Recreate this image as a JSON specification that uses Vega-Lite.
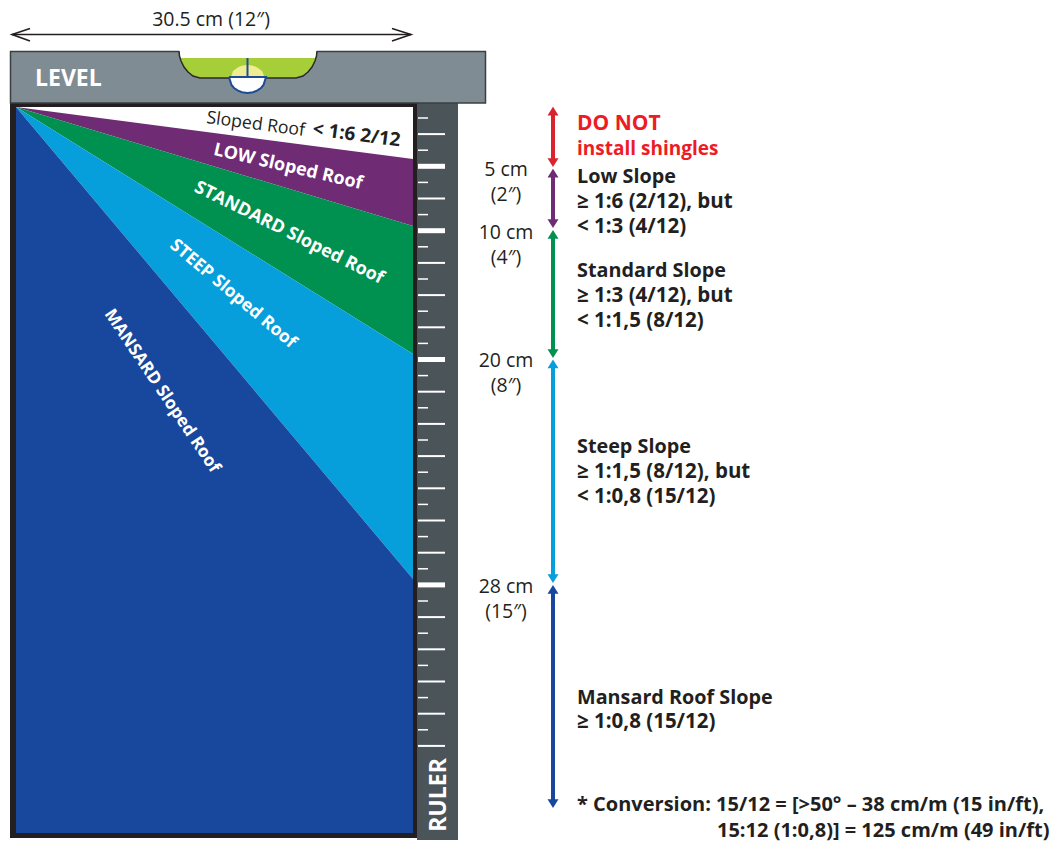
{
"$schema":"https://vega.github.io/schema/vega-lite/v6.json",
"width":1057,"height":843,"padding":0,"autosize":{"type":"none"},"background":"white",
"config":{"view":{"stroke":null},"font":"Open Sans"},
"encoding":{
 "x":{"field":"x","type":"quantitative","scale":{"domain":[0,1057],"nice":false,"zero":false},"axis":null},
 "y":{"field":"y","type":"quantitative","scale":{"domain":[843,0],"nice":false,"zero":false},"axis":null}
},
"layer":[
{"data":{"values":[{"part":"frame","x":10,"x2":417,"y":103,"y2":838}]},"mark":{"type":"rect","fill":"#231f20"},"encoding":{"x2":{"field":"x2"},"y2":{"field":"y2"}}},
{"data":{"values":[{"x":16,"x2":413,"y":107,"y2":833}]},"mark":{"type":"rect","fill":"#ffffff"},"encoding":{"x2":{"field":"x2"},"y2":{"field":"y2"}}},
{"data":{"values":[
 {"band":"low","x":16,"y":107,"y2":107},{"band":"low","x":413,"y":159,"y2":226},
 {"band":"standard","x":16,"y":107,"y2":107},{"band":"standard","x":413,"y":226,"y2":354},
 {"band":"steep","x":16,"y":107,"y2":107},{"band":"steep","x":413,"y":354,"y2":579},
 {"band":"mansard","x":16,"y":107,"y2":833},{"band":"mansard","x":413,"y":579,"y2":833}
]},"mark":{"type":"area","opacity":1},"encoding":{"y2":{"field":"y2"},"detail":{"field":"band"},"color":{"field":"band","type":"nominal","legend":null,"scale":{"domain":["red","low","standard","steep","mansard"],"range":["#d9232e","#6f2c75","#009150","#069fdb","#18479e"]}}}},
{"data":{"values":[{"x":417,"x2":458,"y":103,"y2":840}]},"mark":{"type":"rect","fill":"#4a5459"},"encoding":{"x2":{"field":"x2"},"y2":{"field":"y2"}}},
{"data":{"values":[{"x":418,"x2":428,"y":118},{"x":418,"x2":428,"y":150.2},{"x":418,"x2":428,"y":182.4},{"x":418,"x2":428,"y":214.6},{"x":418,"x2":428,"y":246.8},{"x":418,"x2":428,"y":279},{"x":418,"x2":428,"y":311.2},{"x":418,"x2":428,"y":343.4},{"x":418,"x2":428,"y":375.6},{"x":418,"x2":428,"y":407.8},{"x":418,"x2":428,"y":440},{"x":418,"x2":428,"y":472.2},{"x":418,"x2":428,"y":504.4},{"x":418,"x2":428,"y":536.6},{"x":418,"x2":428,"y":568.8},{"x":418,"x2":428,"y":601},{"x":418,"x2":428,"y":633.2},{"x":418,"x2":428,"y":665.4},{"x":418,"x2":428,"y":697.6},{"x":418,"x2":428,"y":729.8}]},"mark":{"type":"rule","stroke":"#ffffff","strokeWidth":1.5},"encoding":{"x2":{"field":"x2"}}},
{"data":{"values":[{"x":418,"x2":445,"y":134.1},{"x":418,"x2":445,"y":198.5},{"x":418,"x2":445,"y":262.9},{"x":418,"x2":445,"y":295.1},{"x":418,"x2":445,"y":327.3},{"x":418,"x2":445,"y":391.7},{"x":418,"x2":445,"y":423.9},{"x":418,"x2":445,"y":456.1},{"x":418,"x2":445,"y":488.3},{"x":418,"x2":445,"y":520.5},{"x":418,"x2":445,"y":552.7},{"x":418,"x2":445,"y":617.1},{"x":418,"x2":445,"y":649.3},{"x":418,"x2":445,"y":681.5},{"x":418,"x2":445,"y":713.7},{"x":418,"x2":445,"y":745.9}]},"mark":{"type":"rule","stroke":"#ffffff","strokeWidth":2},"encoding":{"x2":{"field":"x2"}}},
{"data":{"values":[{"x":418,"x2":445,"y":166.3},{"x":418,"x2":445,"y":230.7},{"x":418,"x2":445,"y":359.5},{"x":418,"x2":445,"y":584.9}]},"mark":{"type":"rule","stroke":"#ffffff","strokeWidth":5},"encoding":{"x2":{"field":"x2"}}},
{"data":{"values":[{"x":10.5,"x2":485.5,"y":51.5,"y2":103}]},"mark":{"type":"rect","fill":"#808c93","stroke":"#3a3f42","strokeWidth":1.5},"encoding":{"x2":{"field":"x2"},"y2":{"field":"y2"}}},
{"data":{"values":[{"x":179,"y":49,"y2":51},{"x":179.5,"y":49,"y2":56},{"x":181,"y":49,"y2":61},{"x":184,"y":49,"y2":67},{"x":188,"y":49,"y2":72},{"x":193,"y":49,"y2":76},{"x":200,"y":49,"y2":78},{"x":296,"y":49,"y2":78},{"x":303,"y":49,"y2":76},{"x":308,"y":49,"y2":72},{"x":312,"y":49,"y2":67},{"x":315,"y":49,"y2":61},{"x":316.5,"y":49,"y2":56},{"x":317,"y":49,"y2":51}]},"mark":{"type":"area","fill":"#ffffff","opacity":1},"encoding":{"y2":{"field":"y2"}}},
{"data":{"values":[{"x":179.5,"y":58,"y2":58},{"x":181,"y":58,"y2":61},{"x":184,"y":58,"y2":67},{"x":188,"y":58,"y2":72},{"x":193,"y":58,"y2":76},{"x":200,"y":58,"y2":78},{"x":296,"y":58,"y2":78},{"x":303,"y":58,"y2":76},{"x":308,"y":58,"y2":72},{"x":312,"y":58,"y2":67},{"x":315,"y":58,"y2":61},{"x":316.5,"y":58,"y2":58}]},"mark":{"type":"area","fill":"#a6ce39","opacity":1},"encoding":{"y2":{"field":"y2"}}},
{"data":{"values":[{"o":1,"x":179,"y":51},{"o":2,"x":179.5,"y":56},{"o":3,"x":181,"y":61},{"o":4,"x":184,"y":67},{"o":5,"x":188,"y":72},{"o":6,"x":193,"y":76},{"o":7,"x":200,"y":78},{"o":8,"x":296,"y":78},{"o":9,"x":303,"y":76},{"o":10,"x":308,"y":72},{"o":11,"x":312,"y":67},{"o":12,"x":315,"y":61},{"o":13,"x":316.5,"y":56},{"o":14,"x":317,"y":51}]},"mark":{"type":"line","stroke":"#2b2b2b","strokeWidth":1.5},"encoding":{"order":{"field":"o"}}},
{"data":{"values":[{"x":231,"y":77,"y2":77},{"x":233,"y":71,"y2":77},{"x":236,"y":68.8,"y2":77},{"x":239,"y":66.7,"y2":77},{"x":243,"y":65.5,"y2":77},{"x":247.5,"y":65,"y2":77},{"x":252,"y":65.5,"y2":77},{"x":256,"y":66.7,"y2":77},{"x":259,"y":68.8,"y2":77},{"x":262,"y":71,"y2":77},{"x":264.5,"y":77,"y2":77}]},"mark":{"type":"area","fill":"#f0ec94","opacity":1},"encoding":{"y2":{"field":"y2"}}},
{"data":{"values":[{"x":229,"y":77,"y2":77},{"x":231.5,"y":77,"y2":85},{"x":234,"y":77,"y2":88},{"x":238,"y":77,"y2":90.7},{"x":242,"y":77,"y2":92.3},{"x":247.5,"y":77,"y2":93},{"x":253,"y":77,"y2":92.3},{"x":257,"y":77,"y2":90.7},{"x":261,"y":77,"y2":88},{"x":263.5,"y":77,"y2":85},{"x":266,"y":77,"y2":77}]},"mark":{"type":"area","fill":"#ffffff","opacity":1},"encoding":{"y2":{"field":"y2"}}},
{"data":{"values":[{"o":1,"x":229,"y":77},{"o":2,"x":231.5,"y":85},{"o":3,"x":234,"y":88},{"o":4,"x":238,"y":90.7},{"o":5,"x":242,"y":92.3},{"o":6,"x":247.5,"y":93},{"o":7,"x":253,"y":92.3},{"o":8,"x":257,"y":90.7},{"o":9,"x":261,"y":88},{"o":10,"x":263.5,"y":85},{"o":11,"x":266,"y":77},{"o":12,"x":229,"y":77},{"o":13,"x":247.5,"y":77},{"o":14,"x":247.5,"y":58}]},"mark":{"type":"line","stroke":"#1d4b96","strokeWidth":2},"encoding":{"order":{"field":"o"}}},
{"data":{"values":[{"p":"a","o":1,"x":30,"y":28.5},{"p":"a","o":2,"x":12,"y":34.5},{"p":"a","o":3,"x":30,"y":41},{"p":"b","o":1,"x":12,"y":34.5},{"p":"b","o":2,"x":411,"y":34.5},{"p":"c","o":1,"x":392,"y":28.5},{"p":"c","o":2,"x":411,"y":34.5},{"p":"c","o":3,"x":392,"y":41}]},"mark":{"type":"line","stroke":"#231f20","strokeWidth":1.6},"encoding":{"order":{"field":"o"},"detail":{"field":"p"}}},
{"data":{"values":[
 {"band":"red","x":553,"y":110},{"band":"red","x":553,"y":164},
 {"band":"low","x":553,"y":172},{"band":"low","x":553,"y":225},
 {"band":"standard","x":553,"y":234},{"band":"standard","x":553,"y":354},
 {"band":"steep","x":553,"y":363},{"band":"steep","x":553,"y":579},
 {"band":"mansard","x":553,"y":589},{"band":"mansard","x":553,"y":804}
]},"mark":{"type":"line","strokeWidth":4},"encoding":{"color":{"field":"band","type":"nominal","legend":null},"detail":{"field":"band"}}},
{"data":{"values":[{"band":"red","x":553,"y":111.1},{"band":"low","x":553,"y":173.1},{"band":"standard","x":553,"y":234.4},{"band":"steep","x":553,"y":363.9},{"band":"mansard","x":553,"y":589.4}]},"mark":{"type":"point","filled":true,"opacity":1,"shape":"M0,-0.8L1,0.8L-1,0.8Z","size":121},"encoding":{"color":{"field":"band","type":"nominal","legend":null}}},
{"data":{"values":[{"band":"red","x":553,"y":162.6},{"band":"low","x":553,"y":223.6},{"band":"standard","x":553,"y":353.6},{"band":"steep","x":553,"y":578.6},{"band":"mansard","x":553,"y":803.6}]},"mark":{"type":"point","filled":true,"opacity":1,"shape":"M0,0.8L1,-0.8L-1,-0.8Z","size":121},"encoding":{"color":{"field":"band","type":"nominal","legend":null}}},
{"data":{"values":[{"t":"30.5 cm (12″)","x":211,"y":26},{"t":"5 cm","x":506,"y":176},{"t":"(2″)","x":506,"y":201},{"t":"10 cm","x":506,"y":239},{"t":"(4″)","x":506,"y":264},{"t":"20 cm","x":506,"y":367},{"t":"(8″)","x":506,"y":392},{"t":"28 cm","x":506,"y":593},{"t":"(15″)","x":506,"y":618}]},"mark":{"type":"text","align":"center","baseline":"alphabetic","fontSize":19.5,"fill":"#231f20"},"encoding":{"text":{"field":"t"}}},
{"data":{"values":[{"t":"LEVEL","x":35,"y":86}]},"mark":{"type":"text","align":"left","baseline":"alphabetic","fontSize":23,"fontWeight":"bold","fill":"#ffffff"},"encoding":{"text":{"field":"t"}}},
{"data":{"values":[{"t":"RULER","x":446,"y":795}]},"mark":{"type":"text","align":"center","baseline":"alphabetic","angle":270,"fontSize":23,"fontWeight":"bold","fill":"#ffffff"},"encoding":{"text":{"field":"t"}}},
{"data":{"values":[{"t":"Sloped Roof","x":206,"y":123}]},"mark":{"type":"text","align":"left","baseline":"alphabetic","angle":7.5,"fontSize":17.7,"fill":"#231f20"},"encoding":{"text":{"field":"t"}}},
{"data":{"values":[{"t":"< 1:6 2/12","x":312,"y":135}]},"mark":{"type":"text","align":"left","baseline":"alphabetic","angle":7.5,"fontSize":19,"fontWeight":"bold","fill":"#231f20"},"encoding":{"text":{"field":"t"}}},
{"data":{"values":[{"t":"LOW Sloped Roof","x":288,"y":167}]},"mark":{"type":"text","align":"center","baseline":"middle","angle":13,"fontSize":18,"fontWeight":"bold","fill":"#ffffff"},"encoding":{"text":{"field":"t"}}},
{"data":{"values":[{"t":"STANDARD Sloped Roof","x":289,"y":233}]},"mark":{"type":"text","align":"center","baseline":"middle","angle":26.5,"fontSize":18,"fontWeight":"bold","fill":"#ffffff"},"encoding":{"text":{"field":"t"}}},
{"data":{"values":[{"t":"STEEP Sloped Roof","x":233,"y":294}]},"mark":{"type":"text","align":"center","baseline":"middle","angle":40,"fontSize":17.6,"fontWeight":"bold","fill":"#ffffff"},"encoding":{"text":{"field":"t"}}},
{"data":{"values":[{"t":"MANSARD Sloped Roof","x":162,"y":391}]},"mark":{"type":"text","align":"center","baseline":"middle","angle":56,"fontSize":17.2,"fontWeight":"bold","fill":"#ffffff"},"encoding":{"text":{"field":"t"}}},
{"data":{"values":[{"t":"DO NOT","x":577,"y":130}]},"mark":{"type":"text","align":"left","baseline":"alphabetic","fontSize":21,"fontWeight":"bold","fill":"#ed1c24"},"encoding":{"text":{"field":"t"}}},
{"data":{"values":[{"t":"install shingles","x":577,"y":155}]},"mark":{"type":"text","align":"left","baseline":"alphabetic","fontSize":19,"fontWeight":"bold","fill":"#ed1c24"},"encoding":{"text":{"field":"t"}}},
{"data":{"values":[{"t":"Low Slope","x":577,"y":183},{"t":"Standard Slope","x":577,"y":277},{"t":"Steep Slope","x":577,"y":453},{"t":"Mansard Roof Slope","x":577,"y":704}]},"mark":{"type":"text","align":"left","baseline":"alphabetic","fontSize":19.8,"fontWeight":"bold","fill":"#231f20"},"encoding":{"text":{"field":"t"}}},
{"data":{"values":[{"t":"≥ 1:6 (2/12), but","x":577,"y":208},{"t":"< 1:3 (4/12)","x":577,"y":233},{"t":"≥ 1:3 (4/12), but","x":577,"y":302},{"t":"< 1:1,5 (8/12)","x":577,"y":327},{"t":"≥ 1:1,5 (8/12), but","x":577,"y":478},{"t":"< 1:0,8 (15/12)","x":577,"y":503},{"t":"≥ 1:0,8 (15/12)","x":577,"y":728}]},"mark":{"type":"text","align":"left","baseline":"alphabetic","fontSize":20.5,"fontWeight":"bold","fill":"#231f20"},"encoding":{"text":{"field":"t"}}},
{"data":{"values":[{"t":"* Conversion: 15/12 = [>50° – 38 cm/m (15 in/ft),","x":577,"y":811},{"t":"15:12 (1:0,8)] = 125 cm/m (49 in/ft)","x":717,"y":837}]},"mark":{"type":"text","align":"left","baseline":"alphabetic","fontSize":20,"fontWeight":"bold","fill":"#231f20"},"encoding":{"text":{"field":"t"}}}
]
}
